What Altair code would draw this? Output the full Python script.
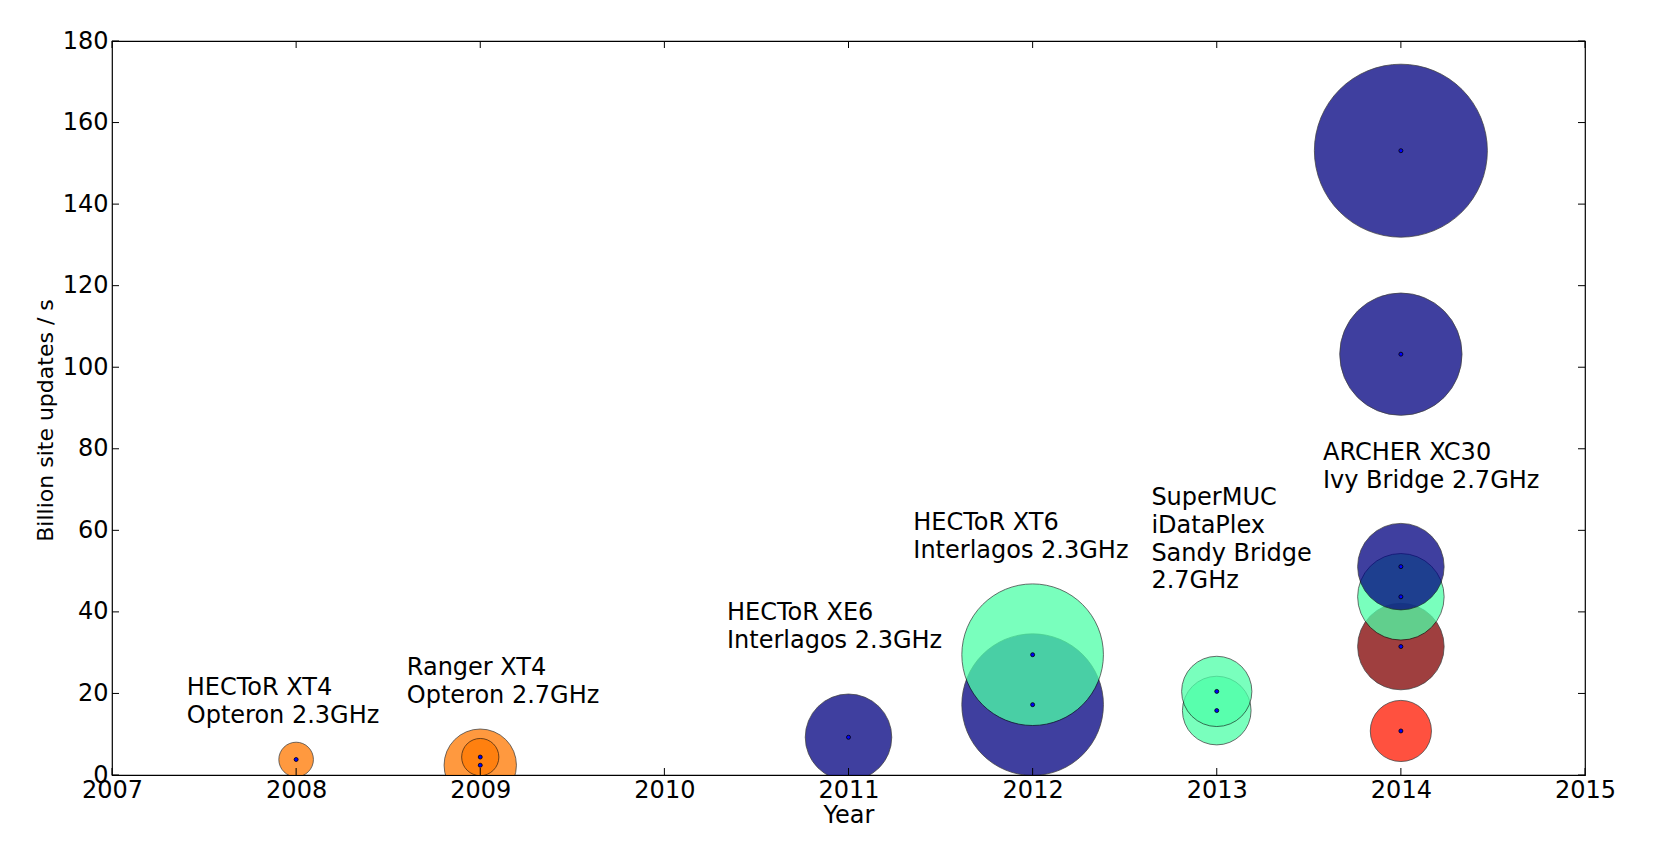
import altair as alt
import pandas as pd

# ---- data ----
years = [2008, 2009, 2009, 2011, 2012, 2012, 2013, 2013, 2014, 2014, 2014, 2014, 2014, 2014]
rates = [3.8, 2.4, 4.4, 9.25, 17.25, 29.5, 15.8, 20.5, 153.1, 103.2, 10.8, 31.5, 43.7, 51.1]
machine_size = [0.16, 0.70, 0.185, 1.0, 2.68, 2.68, 0.63, 0.66, 4.0, 2.0, 0.5, 1.0, 1.0, 1.0]
variant = ["E", "E", "E", "A", "A", "B", "B", "B", "A", "A", "D", "C", "B", "A"]

variant_names = ["A", "B", "C", "D", "E"]
variant_colors = ["#000080", "#4DFFA8", "#800000", "#FF1800", "#FF7800"]

label_x = [2007.406, 2008.601, 2010.34, 2011.352, 2012.645, 2013.577]
label_y = [19.6, 24.5, 38.0, 60.0, 66.2, 77.3]
label_text = [
    "HECToR XT4\nOpteron 2.3GHz",
    "Ranger XT4\nOpteron 2.7GHz",
    "HECToR XE6\nInterlagos 2.3GHz",
    "HECToR XT6\nInterlagos 2.3GHz",
    "SuperMUC\niDataPlex\nSandy Bridge\n2.7GHz",
    "ARCHER XC30\nIvy Bridge 2.7GHz",
]

x_ticks = [2007, 2008, 2009, 2010, 2011, 2012, 2013, 2014, 2015]
y_ticks = [0, 20, 40, 60, 80, 100, 120, 140, 160, 180]

W, H = 1473, 734
FONT = "DejaVu Sans"
FS = 24
XT = "Year"
YT = "Billion site updates / s"

df = pd.DataFrame({"year": years, "rate": rates, "size": machine_size,
                   "variant": variant, "order": list(range(len(years)))})
labels = pd.DataFrame({"year": label_x, "rate": label_y, "text": label_text})
xt = pd.DataFrame({"year": x_ticks})
yt = pd.DataFrame({"rate": y_ticks})

xscale = alt.Scale(domain=[2007, 2015], nice=False, zero=False)
yscale = alt.Scale(domain=[0, 180], nice=False, zero=False)

bubbles = alt.Chart(df).mark_circle(
    opacity=0.75, stroke="black", strokeWidth=1, strokeOpacity=0.75, clip=True
).encode(
    x=alt.X("year:Q", scale=xscale, title=XT,
            axis=alt.Axis(values=x_ticks, format="d", labelFlush=False,
                          labelOverlap=False, labelPadding=3, titlePadding=1)),
    y=alt.Y("rate:Q", scale=yscale, title=YT,
            axis=alt.Axis(values=y_ticks, labelPadding=4, titlePadding=5,
                          titleFontSize=22, titleY=H / 2 + 12)),
    size=alt.Size("size:Q", scale=alt.Scale(type="linear", domain=[0, 4], range=[0, 29929]),
                  legend=None),
    color=alt.Color("variant:N", scale=alt.Scale(domain=variant_names, range=variant_colors),
                    legend=None),
    order=alt.Order("order:Q"),
)

dots = alt.Chart(df).mark_circle(
    size=16, color="#0000FF", stroke="black", strokeWidth=0.8, opacity=1
).encode(
    x=alt.X("year:Q", scale=xscale, title=XT),
    y=alt.Y("rate:Q", scale=yscale, title=YT),
)

text = alt.Chart(labels).mark_text(
    align="left", baseline="alphabetic", font=FONT, fontSize=FS,
    lineBreak="\n", lineHeight=27.8, color="black"
).encode(
    x=alt.X("year:Q", scale=xscale, title=XT),
    y=alt.Y("rate:Q", scale=yscale, title=YT),
    text="text:N",
)

tl = 7
bottom_ticks = alt.Chart(xt).mark_rule(color="black", strokeWidth=1).encode(
    x=alt.X("year:Q", scale=xscale, title=XT), y=alt.value(H), y2=alt.value(H - tl))
top_ticks = alt.Chart(xt).mark_rule(color="black", strokeWidth=1).encode(
    x=alt.X("year:Q", scale=xscale, title=XT), y=alt.value(0), y2=alt.value(tl))
left_ticks = alt.Chart(yt).mark_rule(color="black", strokeWidth=1).encode(
    y=alt.Y("rate:Q", scale=yscale, title=YT), x=alt.value(0), x2=alt.value(tl))
right_ticks = alt.Chart(yt).mark_rule(color="black", strokeWidth=1).encode(
    y=alt.Y("rate:Q", scale=yscale, title=YT), x=alt.value(W), x2=alt.value(W - tl))

chart = alt.layer(
    bubbles, dots, text, bottom_ticks, top_ticks, left_ticks, right_ticks
).properties(
    width=W, height=H,
    autosize=alt.AutoSizeParams(type="none"),
    padding={"left": 104, "top": 33, "right": 60, "bottom": 64},
).configure_view(
    stroke="black", strokeWidth=1.2
).configure_axis(
    domain=False, ticks=False, grid=False,
    labelFont=FONT, labelFontSize=FS, labelColor="black",
    titleFont=FONT, titleFontSize=FS, titleFontWeight="normal", titleColor="black",
)

chart.save("out.html", embed_options={"renderer": "svg", "actions": False})
